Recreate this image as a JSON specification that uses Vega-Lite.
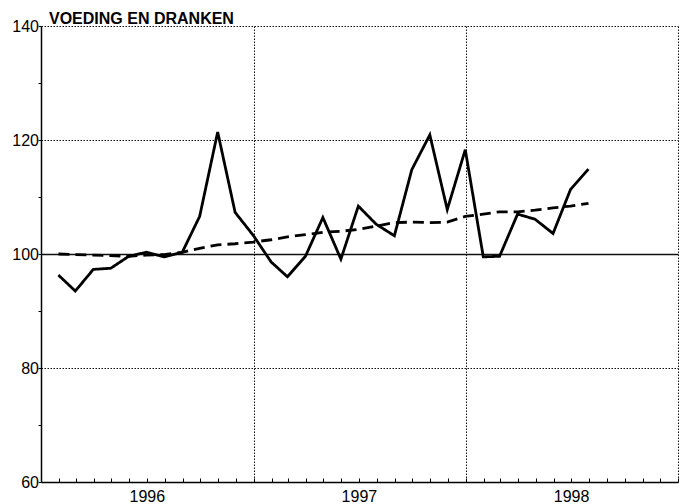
{
  "$schema": "https://vega.github.io/schema/vega-lite/v6.json",
  "width": 637,
  "height": 456,
  "autosize": "none",
  "padding": {"left": 41, "top": 26, "right": 5, "bottom": 22},
  "background": "white",
  "view": {"stroke": null},
  "title": {
    "text": "VOEDING EN DRANKEN",
    "anchor": "start",
    "frame": "group",
    "font": "Liberation Sans",
    "fontSize": 16,
    "fontWeight": "bold",
    "color": "black",
    "offset": 2,
    "dy": 27,
    "dx": 8,
    "baseline": "bottom"
  },
  "data": {
    "values": [
      {"datum": "1996-01-31", "reeks": "maandcijfer", "waarde": 96.3},
      {"datum": "1996-02-29", "reeks": "maandcijfer", "waarde": 93.5},
      {"datum": "1996-03-31", "reeks": "maandcijfer", "waarde": 97.3},
      {"datum": "1996-04-30", "reeks": "maandcijfer", "waarde": 97.5},
      {"datum": "1996-05-31", "reeks": "maandcijfer", "waarde": 99.6},
      {"datum": "1996-06-30", "reeks": "maandcijfer", "waarde": 100.3},
      {"datum": "1996-07-31", "reeks": "maandcijfer", "waarde": 99.5},
      {"datum": "1996-08-31", "reeks": "maandcijfer", "waarde": 100.3},
      {"datum": "1996-09-30", "reeks": "maandcijfer", "waarde": 106.6},
      {"datum": "1996-10-31", "reeks": "maandcijfer", "waarde": 121.4},
      {"datum": "1996-11-30", "reeks": "maandcijfer", "waarde": 107.3},
      {"datum": "1996-12-31", "reeks": "maandcijfer", "waarde": 103.3},
      {"datum": "1997-01-31", "reeks": "maandcijfer", "waarde": 98.6},
      {"datum": "1997-02-28", "reeks": "maandcijfer", "waarde": 96.0},
      {"datum": "1997-03-31", "reeks": "maandcijfer", "waarde": 99.6},
      {"datum": "1997-04-30", "reeks": "maandcijfer", "waarde": 106.4},
      {"datum": "1997-05-31", "reeks": "maandcijfer", "waarde": 99.1},
      {"datum": "1997-06-30", "reeks": "maandcijfer", "waarde": 108.4},
      {"datum": "1997-07-31", "reeks": "maandcijfer", "waarde": 105.2},
      {"datum": "1997-08-31", "reeks": "maandcijfer", "waarde": 103.2},
      {"datum": "1997-09-30", "reeks": "maandcijfer", "waarde": 114.8},
      {"datum": "1997-10-31", "reeks": "maandcijfer", "waarde": 120.9},
      {"datum": "1997-11-30", "reeks": "maandcijfer", "waarde": 107.8},
      {"datum": "1997-12-31", "reeks": "maandcijfer", "waarde": 118.3},
      {"datum": "1998-01-31", "reeks": "maandcijfer", "waarde": 99.5},
      {"datum": "1998-02-28", "reeks": "maandcijfer", "waarde": 99.6},
      {"datum": "1998-03-31", "reeks": "maandcijfer", "waarde": 107.0},
      {"datum": "1998-04-30", "reeks": "maandcijfer", "waarde": 106.1},
      {"datum": "1998-05-31", "reeks": "maandcijfer", "waarde": 103.6},
      {"datum": "1998-06-30", "reeks": "maandcijfer", "waarde": 111.3},
      {"datum": "1998-07-31", "reeks": "maandcijfer", "waarde": 114.9},
      {"datum": "1996-01-31", "reeks": "trend", "waarde": 100.0},
      {"datum": "1996-02-29", "reeks": "trend", "waarde": 99.9},
      {"datum": "1996-03-31", "reeks": "trend", "waarde": 99.8},
      {"datum": "1996-04-30", "reeks": "trend", "waarde": 99.7},
      {"datum": "1996-05-31", "reeks": "trend", "waarde": 99.6},
      {"datum": "1996-06-30", "reeks": "trend", "waarde": 99.8},
      {"datum": "1996-07-31", "reeks": "trend", "waarde": 99.9},
      {"datum": "1996-08-31", "reeks": "trend", "waarde": 100.3},
      {"datum": "1996-09-30", "reeks": "trend", "waarde": 101.0},
      {"datum": "1996-10-31", "reeks": "trend", "waarde": 101.6},
      {"datum": "1996-11-30", "reeks": "trend", "waarde": 101.8},
      {"datum": "1996-12-31", "reeks": "trend", "waarde": 102.1},
      {"datum": "1997-01-31", "reeks": "trend", "waarde": 102.5},
      {"datum": "1997-02-28", "reeks": "trend", "waarde": 103.0},
      {"datum": "1997-03-31", "reeks": "trend", "waarde": 103.4},
      {"datum": "1997-04-30", "reeks": "trend", "waarde": 103.8},
      {"datum": "1997-05-31", "reeks": "trend", "waarde": 104.0},
      {"datum": "1997-06-30", "reeks": "trend", "waarde": 104.3},
      {"datum": "1997-07-31", "reeks": "trend", "waarde": 104.9},
      {"datum": "1997-08-31", "reeks": "trend", "waarde": 105.5},
      {"datum": "1997-09-30", "reeks": "trend", "waarde": 105.6},
      {"datum": "1997-10-31", "reeks": "trend", "waarde": 105.5},
      {"datum": "1997-11-30", "reeks": "trend", "waarde": 105.6},
      {"datum": "1997-12-31", "reeks": "trend", "waarde": 106.6},
      {"datum": "1998-01-31", "reeks": "trend", "waarde": 107.0},
      {"datum": "1998-02-28", "reeks": "trend", "waarde": 107.4},
      {"datum": "1998-03-31", "reeks": "trend", "waarde": 107.4},
      {"datum": "1998-04-30", "reeks": "trend", "waarde": 107.7},
      {"datum": "1998-05-31", "reeks": "trend", "waarde": 108.1},
      {"datum": "1998-06-30", "reeks": "trend", "waarde": 108.4},
      {"datum": "1998-07-31", "reeks": "trend", "waarde": 108.9}
    ]
  },
  "mark": {"type": "line", "color": "black", "strokeWidth": 2.8},
  "encoding": {
    "x": {
      "field": "datum",
      "type": "temporal",
      "scale": {
        "type": "utc",
        "domain": [
          {"year": 1996, "month": 1, "date": 1, "utc": true},
          {"year": 1999, "month": 1, "date": 1, "utc": true}
        ]
      },
      "axis": {
        "title": null,
        "tickCount": {"interval": "month", "step": 1},
        "labelExpr": "utcmonth(datum.value) == 6 ? utcFormat(datum.value, '%Y') : ''",
        "labelOverlap": false,
        "labelFlush": false,
        "labelBound": false,
        "labelFont": "Liberation Sans",
        "labelFontSize": 16,
        "labelColor": "black",
        "labelBaseline": "top",
        "labelPadding": 10,
        "domainColor": "black",
        "domainWidth": 1.5,
        "tickColor": "black",
        "tickWidth": 1,
        "tickSize": -4,
        "grid": true,
        "gridColor": "#111111",
        "gridWidth": 1,
        "gridDash": [1.5, 1.5],
        "gridOpacity": {
          "condition": {"test": "utcmonth(datum.value) == 0 && utcyear(datum.value) > 1996", "value": 1},
          "value": 0
        }
      }
    },
    "y": {
      "field": "waarde",
      "type": "quantitative",
      "scale": {"domain": [60, 140], "nice": false, "zero": false},
      "axis": {
        "title": null,
        "values": [60, 70, 80, 90, 100, 110, 120, 130, 140],
        "labelExpr": "datum.value % 20 == 0 ? datum.label : ''",
        "labelOverlap": false,
        "labelFlush": false,
        "labelFont": "Liberation Sans",
        "labelFontSize": 16,
        "labelColor": "black",
        "labelPadding": -0.5,
        "tickSize": 3,
        "tickColor": "black",
        "tickWidth": 1,
        "domainColor": "black",
        "domainWidth": 1.5,
        "grid": true,
        "gridColor": "#111111",
        "gridWidth": {"condition": {"test": "datum.value == 100", "value": 1.5}, "value": 1},
        "gridDash": {"condition": {"test": "datum.value == 100", "value": []}, "value": [1.5, 1.5]},
        "gridOpacity": {
          "condition": {"test": "datum.value % 20 == 0 && datum.value > 60", "value": 1},
          "value": 0
        }
      }
    },
    "strokeDash": {
      "field": "reeks",
      "type": "nominal",
      "scale": {"domain": ["maandcijfer", "trend"], "range": [[1, 0], [11, 6]]},
      "legend": null
    }
  }
}
